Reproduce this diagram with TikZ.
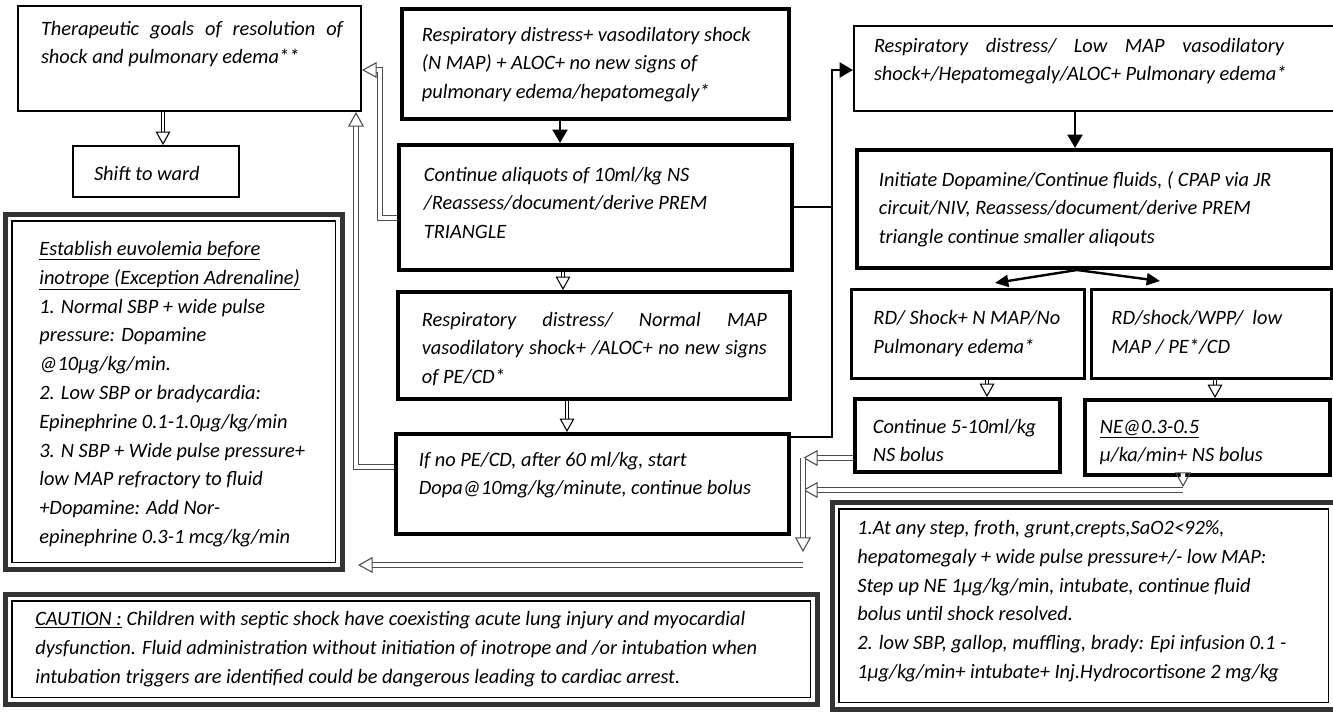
\documentclass[tikz,border=0pt]{standalone}
\usepackage{fontspec}
\setmainfont{Carlito}
\usetikzlibrary{arrows.meta}
\newdimen\upx \upx=0.75pt
% #1 W, #2 H, #3 left pad, #4 top pad, #5 text (px)
\newcommand{\bxt}[5]{\begin{minipage}[c][#2\upx][t]{#1\upx}\vspace*{#4\upx}\leftskip=#3\upx\relax\parindent=0pt\strut #5\par\end{minipage}}
\newcommand{\jl}[2]{\makebox[#1\upx][s]{#2}}
\tikzset{
  tbox/.style={draw, line width=1.5pt, inner sep=0pt, anchor=north west},
  kbox/.style={draw, line width=2.8pt, inner sep=0pt, anchor=north west},
  mbox/.style={draw, line width=2.2pt, inner sep=0pt, anchor=north west},
  dbox/.style={draw=black!80, line width=3.5pt, inner sep=0pt, anchor=north west},
  inbox/.style={draw, line width=0.8pt},
  karr/.style={line width=2.2pt, -{Triangle[length=10pt,width=11pt]}},
  kline/.style={line width=2.2pt},
  harr/.style={draw=black, double=white, line width=0.8pt, double distance=2pt, -{Triangle[open,length=10pt,width=11pt]}},
  fb/.style={draw=black!70, double=white, line width=0.8pt, double distance=2.4pt},
  fbarr/.style={fb, -{Triangle[open,length=11pt,width=12pt]}},
}
\begin{document}
\begin{tikzpicture}[x=0.75pt,y=-0.75pt, font=\fontsize{15.3pt}{21.6pt}\selectfont\itshape]
\useasboundingbox[fill=white] (0,0) rectangle (1333,720);

% left column
\node[tbox] (th) at (17,5) {\bxt{343}{105}{23}{9}{\jl{302}{Therapeutic goals of resolution of}\\ shock and pulmonary edema**}};
\node[tbox] (sw) at (72,145) {\bxt{166}{51}{21}{14}{Shift to ward}};
\node[dbox] (eu) at (3,212) {\bxt{337}{355}{34}{21}{\underline{Establish euvolemia before}\\ \underline{inotrope (Exception Adrenaline)}\\ 1. Normal SBP + wide pulse\\ pressure: Dopamine\\ @10µg/kg/min.\\ 2. Low SBP or bradycardia:\\ Epinephrine 0.1-1.0µg/kg/min\\ 3. N SBP + Wide pulse pressure+\\ low MAP refractory to fluid\\ +Dopamine: Add Nor-\\ epinephrine 0.3-1 mcg/kg/min}};
\draw[inbox] ([shift={(9,9)}]eu.north west) rectangle ([shift={(-9,-9)}]eu.south east);
\node[dbox] (ca) at (3,592) {\bxt{812}{110}{30}{11}{\underline{CAUTION :} Children with septic shock have coexisting acute lung injury and myocardial\\ dysfunction. Fluid administration without initiation of inotrope and /or intubation when\\ intubation triggers are identified could be dangerous leading to cardiac arrest.}};
\draw[inbox] ([shift={(9,9)}]ca.north west) rectangle ([shift={(-9,-9)}]ca.south east);

% middle column
\node[kbox] (A) at (400,7) {\bxt{387}{110}{20}{12}{Respiratory distress+ vasodilatory shock\\ (N MAP) + ALOC+ no new signs of\\ pulmonary edema/hepatomegaly*}};
\node[kbox] (B) at (397,143) {\bxt{393}{125}{25}{16}{Continue aliquots of 10ml/kg NS\\ /Reassess/document/derive PREM\\ TRIANGLE}};
\node[kbox] (C) at (396,290) {\bxt{392}{107}{24}{14}{\jl{345}{Respiratory distress/ Normal MAP}\\ \jl{345}{vasodilatory shock+ /ALOC+ no new signs}\\ of PE/CD*}};
\node[kbox] (D) at (394,432) {\bxt{393}{100}{23}{12}{If no PE/CD, after 60 ml/kg, start\\ Dopa@10mg/kg/minute, continue bolus}};

% right column
\node[tbox] (E) at (853,25) {\bxt{482}{85}{20}{6}{\jl{410}{Respiratory distress/ Low MAP vasodilatory}\\ shock+/Hepatomegaly/ALOC+ Pulmonary edema*}};
\node[kbox] (F) at (855,148) {\bxt{475}{118}{22}{16}{Initiate Dopamine/Continue fluids, ( CPAP via JR\\ circuit/NIV, Reassess/document/derive PREM\\ triangle continue smaller aliqouts}};
\node[mbox] (G) at (850,288) {\bxt{233}{89}{22}{15}{RD/ Shock+ N MAP/No\\ Pulmonary edema*}};
\node[mbox] (H) at (1090,288) {\bxt{240}{89}{20}{15}{RD/shock/WPP/\ \ low\\ MAP / PE*/CD}};
\node[kbox] (I) at (853,397) {\bxt{205}{73}{18}{14}{Continue 5-10ml/kg\\ NS bolus}};
\node[kbox] (J) at (1083,398) {\bxt{245}{75}{15}{13}{\underline{NE@0.3-0.5}\\ µ/ka/min+ NS bolus}};
\node[dbox] (K) at (830,500) {\bxt{503}{207}{25}{12}{1.At any step, froth, grunt,crepts,SaO2<92\%,\\ hepatomegaly + wide pulse pressure+/- low MAP:\\ Step up NE 1µg/kg/min, intubate, continue fluid\\ bolus until shock resolved.\\ 2. low SBP, gallop, muffling, brady: Epi infusion 0.1 -\\ 1µg/kg/min+ intubate+ Inj.Hydrocortisone 2 mg/kg}};
\draw[inbox] ([shift={(9,9)}]K.north west) rectangle ([shift={(-9,-9)}]K.south east);

% helper coordinates
\coordinate (x163) at (163,0);
\coordinate (x560) at (560,0);
\coordinate (x563) at (563,0);
\coordinate (x567) at (567,0);
\coordinate (x1075) at (1075,0);
\coordinate (x987) at (987,0);
\coordinate (x1215) at (1215,0);
\coordinate (x1183) at (1183,0);
\coordinate (x356) at (356,0);
\coordinate (y70) at (0,70);
\coordinate (y207) at (0,207);
\coordinate (y218) at (0,218);
\coordinate (y437) at (0,437);
\coordinate (y467) at (0,467);
\coordinate (y458) at (0,458);
\coordinate (fj) at (1077,270);
\coordinate (gt) at (995,283);
\coordinate (ht) at (1160,281);
\coordinate (vr) at (832,437);
\coordinate (vt) at (832,70);
\coordinate (bj) at (832,207);
\coordinate (lb) at (380,218);
\coordinate (lt) at (380,70);
\coordinate (ld) at (356,467);
\coordinate (pI) at (803,458);
\coordinate (pJa) at (1183,487);
\coordinate (pJb) at (1183,490);
\coordinate (pJc) at (803,490);
\coordinate (pv) at (803,552);
\coordinate (ph) at (803,565);
\coordinate (pl) at (358,565);

% main flow arrows
\draw[harr] (th.south -| x163) -- (sw.north -| x163);
\draw[karr] (A.south -| x560) -- (B.north -| x560);
\draw[harr] (B.south -| x563) -- (C.north -| x563);
\draw[harr] (C.south -| x567) -- (D.north -| x567);
\draw[karr] (E.south -| x1075) -- (F.north -| x1075);
\draw[line width=1.8pt, -{Triangle[length=10pt,width=9pt]}] (fj) -- (gt);
\draw[line width=1.8pt, -{Triangle[length=10pt,width=9pt]}] (fj) -- (ht);
\draw[harr] (G.south -| x987) -- (I.north -| x987);
\draw[harr] (H.south -| x1215) -- (J.north -| x1215);

% escalation path to right column
\draw[kline] (B.east |- y207) -- (bj);
\draw[karr] (D.east |- y437) -- (vr) -- (vt) -- (E.west |- y70);

% feedback paths
\draw[fbarr] (B.west |- y218) -- (lb) -- (lt) -- (th.east |- y70);
\draw[fbarr] (D.west |- y467) -- (ld) -- (th.south -| x356);
\draw[fbarr] (I.west |- y458) -- (pI);
\draw[fbarr] (J.south -| x1183) -- (pJa);
\draw[fbarr] (pJb) -- (pJc);
\draw[fbarr] (pI) -- (pv);
\draw[fbarr] (ph) -- (pl);
\end{tikzpicture}
\end{document}
